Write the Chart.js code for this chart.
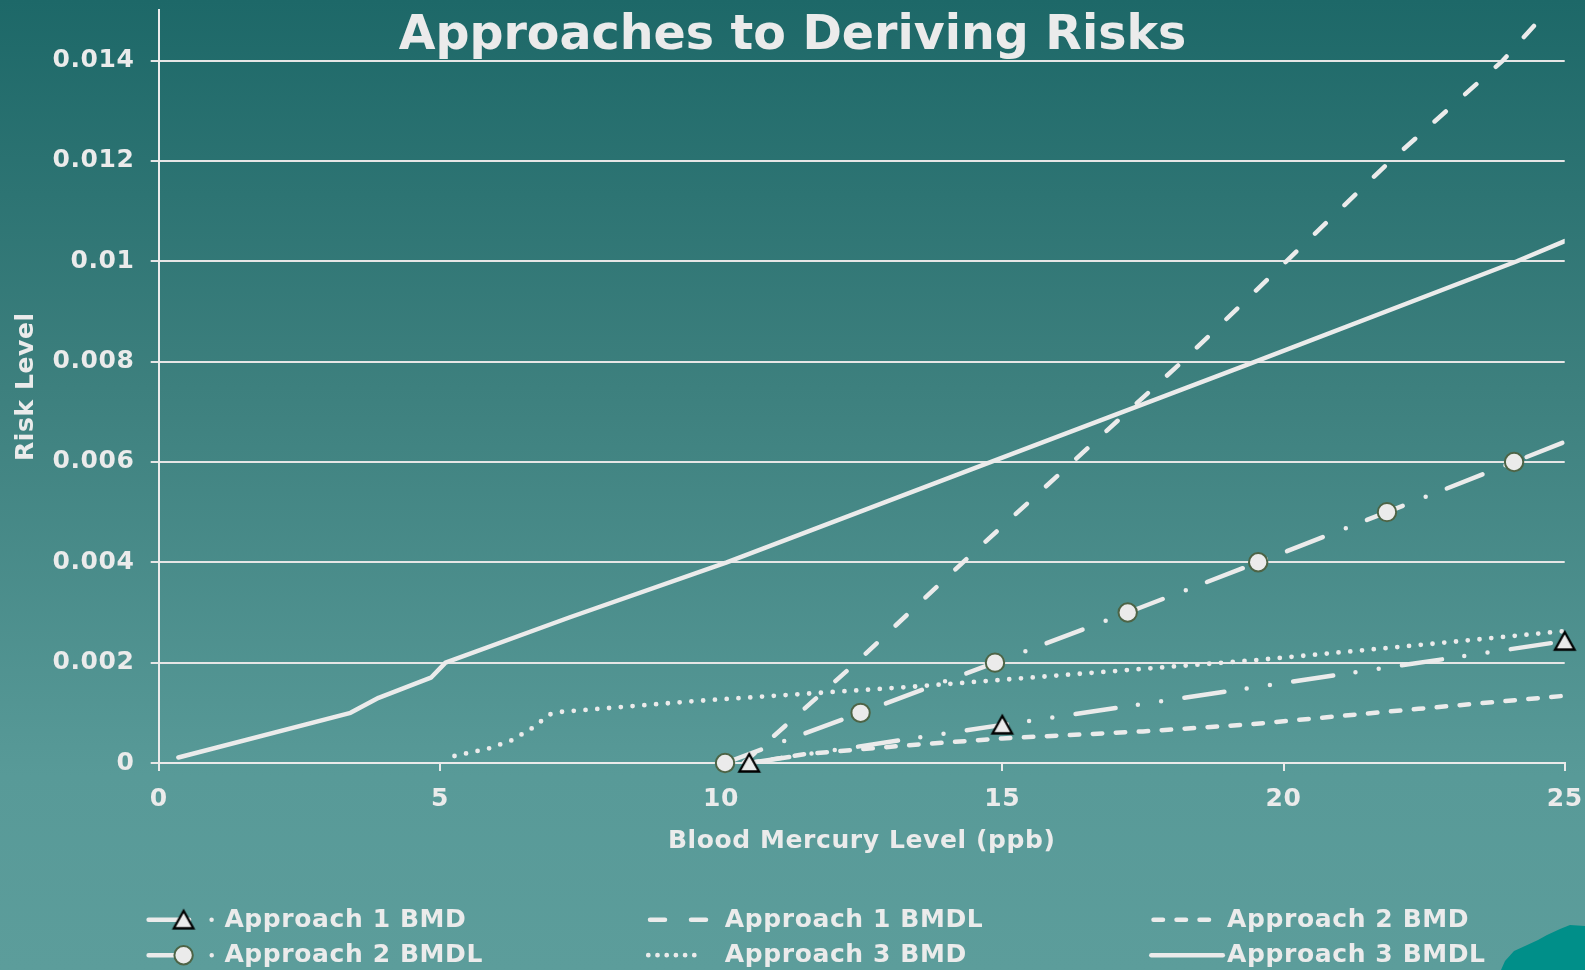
<!DOCTYPE html>
<html>
<head>
<meta charset="utf-8">
<title>Approaches to Deriving Risks</title>
<script src="https://cdn.jsdelivr.net/npm/chart.js@4.4.0/dist/chart.umd.min.js"></script>
<style>
  html, body { margin: 0; padding: 0; overflow: hidden; }
  body { width: 1585px; height: 970px; }
  canvas { display: block; }
</style>
</head>
<body>
<canvas id="risk" width="1585" height="970"></canvas>
<script>
// ---- Data (blood mercury level in ppb vs. risk level) ----
const titleText = 'Approaches to Deriving Risks';
const xAxisTitle = 'Blood Mercury Level (ppb)';
const yAxisTitle = 'Risk Level';

const seriesNames = [
  'Approach 1 BMD', 'Approach 1 BMDL', 'Approach 2 BMD',
  'Approach 2 BMDL', 'Approach 3 BMD', 'Approach 3 BMDL'
];

const a1BmdX = [10.5, 15, 25];
const a1BmdY = [0, 0.00076, 0.00243];

const a1BmdlX = [10.4, 12.4, 14.3, 16.25, 18.2, 20.05, 21.9, 23.9, 24.7];
const a1BmdlY = [0, 0.002, 0.004, 0.006, 0.008, 0.010, 0.012, 0.014, 0.015];

const a2BmdX = [10.5, 11.5, 13.4, 15, 17.5, 19.4, 22.4, 25];
const a2BmdY = [0, 0.00018, 0.00036, 0.00049, 0.00063, 0.00077, 0.00108, 0.00134];

const a2BmdlX = [10.07, 12.48, 14.87, 17.23, 19.55, 21.84, 24.1, 25];
const a2BmdlY = [0, 0.001, 0.002, 0.003, 0.004, 0.005, 0.006, 0.0064];

const a3BmdX = [5.26, 5.87, 6.27, 6.62, 6.96, 7.16, 9.6, 13.4, 17.2, 19.5, 22.4, 25];
const a3BmdY = [0.00014, 0.00029, 0.00045, 0.00068, 0.00097, 0.00102, 0.00124, 0.00152, 0.00185, 0.00205, 0.00235, 0.00263];

const a3BmdlX = [0.35, 3.41, 3.91, 4.84, 5.1, 7.3, 10.1, 14.8, 19.5, 24.15, 25];
const a3BmdlY = [0.00011, 0.001, 0.0013, 0.0017, 0.002, 0.0029, 0.004, 0.006, 0.008, 0.010, 0.0104];

const xTickValues = [0, 5, 10, 15, 20, 25];
const xTickLabels = ['0', '5', '10', '15', '20', '25'];
const yTickValues = [0, 0.002, 0.004, 0.006, 0.008, 0.010, 0.012, 0.014];
const yTickLabels = ['0', '0.002', '0.004', '0.006', '0.008', '0.01', '0.012', '0.014'];

// ---- Styling ----
const INK = '#ebebeb';
const FONT_FAMILY = '"DejaVu Sans", Verdana, sans-serif';
const LETTER_SPACING = '0.6px';
const LINE_W = 4.5;
const labelFont = { family: FONT_FAMILY, size: 25, weight: 'bold', lineHeight: 1.2 };

const pts = (xs, ys) => xs.map((x, i) => ({ x: x, y: ys[i] }));

// Triangle marker centred on its bounding box (light fill, black outline)
function makeTriangleMarker() {
  const c = document.createElement('canvas');
  c.width = 26;
  c.height = 24;
  const g = c.getContext('2d');
  g.fillStyle = INK;
  g.strokeStyle = '#000000';
  g.lineWidth = 2.3;
  g.lineJoin = 'miter';
  g.beginPath();
  g.moveTo(13, 3);
  g.lineTo(22.8, 20.5);
  g.lineTo(3.2, 20.5);
  g.closePath();
  g.fill();
  g.stroke();
  return c;
}
const triangleMarker = makeTriangleMarker();

const baseLine = {
  borderColor: INK,
  borderWidth: LINE_W,
  borderCapStyle: 'round',
  borderJoinStyle: 'round',
  fill: false,
  tension: 0,
  pointRadius: 0,
  pointHoverRadius: 0
};

const datasets = [
  Object.assign({}, baseLine, {
    label: seriesNames[0],
    data: pts(a1BmdX, a1BmdY),
    borderDash: [40.5, 22.5, 0, 23.5, 0, 23.5],
    pointStyle: triangleMarker,
    pointRadius: 11,
    clip: false,
    order: 0,
    sample: { from: 2, to: 72 },
    marker: { image: triangleMarker }
  }),
  Object.assign({}, baseLine, {
    label: seriesNames[1],
    data: pts(a1BmdlX, a1BmdlY),
    borderDash: [15, 26],
    order: 2,
    sample: { from: 3, to: 64 }
  }),
  Object.assign({}, baseLine, {
    label: seriesNames[2],
    data: pts(a2BmdX, a2BmdY),
    borderDash: [9.5, 13.5],
    order: 2,
    sample: { from: 4.2, to: 62.5 }
  }),
  Object.assign({}, baseLine, {
    label: seriesNames[3],
    data: pts(a2BmdlX, a2BmdlY),
    borderDash: [38.4, 24.7, 0, 22.7],
    pointStyle: 'circle',
    pointRadius: a2BmdlX.map((x, i) => (i === a2BmdlX.length - 1 ? 0 : 9.2)),
    pointBackgroundColor: INK,
    pointBorderColor: '#4d6446',
    pointBorderWidth: 2,
    clip: false,
    order: 1,
    sample: { from: 2, to: 72 },
    marker: { radius: 9.2, fill: INK, stroke: '#4d6446', width: 2 }
  }),
  Object.assign({}, baseLine, {
    label: seriesNames[4],
    data: pts(a3BmdX, a3BmdY),
    borderDash: [0, 11.8],
    borderWidth: 4.8,
    order: 2,
    sample: { from: 1.3, to: 48, dash: [0, 9.2] }
  }),
  Object.assign({}, baseLine, {
    label: seriesNames[5],
    data: pts(a3BmdlX, a3BmdlY),
    order: 2,
    sample: { from: 2, to: 73.5 }
  })
];

// Slide backdrop: teal gradient plus the small landform in the lower right corner
const backdropPlugin = {
  id: 'backdrop',
  beforeDraw(chart) {
    const ctx = chart.ctx;
    const w = chart.width, h = chart.height;
    ctx.save();
    const g = ctx.createLinearGradient(0, 0, 0, h);
    g.addColorStop(0, 'rgb(29,104,104)');
    g.addColorStop(0.4, 'rgb(61,128,126)');
    g.addColorStop(0.8, 'rgb(88,154,152)');
    g.addColorStop(1, 'rgb(92,157,155)');
    ctx.fillStyle = g;
    ctx.fillRect(0, 0, w, h);
    ctx.fillStyle = '#008f89';
    ctx.beginPath();
    ctx.moveTo(w - 84, h);
    ctx.lineTo(w - 80, h - 9);
    ctx.lineTo(w - 71, h - 19);
    ctx.lineTo(w - 60, h - 24);
    ctx.lineTo(w - 47, h - 30);
    ctx.lineTo(w - 38, h - 35);
    ctx.lineTo(w - 25, h - 41);
    ctx.lineTo(w - 15, h - 45);
    ctx.lineTo(w, h - 44);
    ctx.lineTo(w, h);
    ctx.closePath();
    ctx.fill();
    ctx.restore();
    ctx.letterSpacing = LETTER_SPACING;
  },
  afterDraw(chart) {
    chart.ctx.letterSpacing = '0px';
  }
};

function drawMarker(ctx, m, x, y) {
  ctx.save();
  ctx.setLineDash([]);
  if (m.image) {
    ctx.drawImage(m.image, x - m.image.width / 2, y - m.image.height / 2);
  } else {
    ctx.fillStyle = m.fill;
    ctx.strokeStyle = m.stroke;
    ctx.lineWidth = m.width;
    ctx.beginPath();
    ctx.arc(x, y, m.radius, 0, Math.PI * 2);
    ctx.fill();
    ctx.stroke();
  }
  ctx.restore();
}

// Three-column legend under the x axis
const gridLegendPlugin = {
  id: 'gridLegend',
  afterDraw(chart) {
    const ctx = chart.ctx;
    const cols = [146.6, 647, 1149.3];
    const rows = [919.8, 955.2];
    chart.data.datasets.forEach((ds, i) => {
      const x0 = cols[i % 3];
      const cy = rows[Math.floor(i / 3)];
      const s = ds.sample;
      ctx.save();
      ctx.strokeStyle = ds.borderColor;
      ctx.lineWidth = ds.borderWidth;
      ctx.lineCap = 'round';
      ctx.setLineDash(s.dash || ds.borderDash || []);
      ctx.beginPath();
      ctx.moveTo(x0 + s.from, cy);
      ctx.lineTo(x0 + s.to, cy);
      ctx.stroke();
      ctx.restore();
      if (ds.marker) drawMarker(ctx, ds.marker, x0 + 37, cy);
      ctx.save();
      ctx.letterSpacing = LETTER_SPACING;
      ctx.font = 'bold 25px ' + FONT_FAMILY;
      ctx.fillStyle = INK;
      ctx.textAlign = 'left';
      ctx.textBaseline = 'middle';
      ctx.fillText(ds.label, x0 + 77.8, cy + 0.5);
      ctx.restore();
    });
  }
};

// Slide heading drawn across the top of the canvas
const headingPlugin = {
  id: 'heading',
  afterDraw(chart) {
    const ctx = chart.ctx;
    ctx.save();
    ctx.letterSpacing = '0px';
    ctx.font = 'bold 47.5px ' + FONT_FAMILY;
    ctx.fillStyle = INK;
    ctx.textAlign = 'center';
    ctx.textBaseline = 'alphabetic';
    ctx.fillText(titleText, chart.width / 2, 49.3);
    ctx.restore();
  }
};

new Chart(document.getElementById('risk'), {
  type: 'line',
  data: { datasets: datasets },
  plugins: [backdropPlugin, gridLegendPlugin, headingPlugin],
  options: {
    responsive: false,
    devicePixelRatio: 1,
    animation: false,
    events: [],
    layout: {
      autoPadding: false,
      padding: { top: 10.4, right: 20.3, bottom: 112, left: 0 }
    },
    plugins: {
      legend: { display: false },
      title: { display: false },
      tooltip: { enabled: false }
    },
    scales: {
      x: {
        type: 'linear',
        min: 0,
        max: 25,
        afterBuildTicks: (s) => { s.ticks = xTickValues.map(v => ({ value: v })); },
        afterFit: (s) => {
          s.height = 95;
          s.paddingLeft = 0;
          s.paddingRight = 0;
        },
        ticks: {
          color: INK,
          font: labelFont,
          padding: 13.5,
          maxRotation: 0,
          callback: (v, i) => xTickLabels[i]
        },
        grid: {
          drawOnChartArea: false,
          drawTicks: true,
          tickLength: 8,
          color: INK,
          lineWidth: 2
        },
        border: { display: true, color: INK, width: 2 },
        title: {
          display: true,
          text: xAxisTitle,
          color: INK,
          font: labelFont,
          padding: { top: 0, bottom: 2 }
        }
      },
      y: {
        type: 'linear',
        min: 0,
        max: 0.015,
        afterBuildTicks: (s) => { s.ticks = yTickValues.map(v => ({ value: v })); },
        afterFit: (s) => {
          s.width = 158.7;
          s.paddingTop = 0;
          s.paddingBottom = 0;
        },
        ticks: {
          color: INK,
          font: labelFont,
          padding: 16.2,
          callback: (v, i) => yTickLabels[i]
        },
        grid: {
          drawTicks: true,
          tickLength: 8,
          color: '#e6e6e6',
          lineWidth: 2
        },
        border: { display: true, color: INK, width: 2 },
        title: {
          display: true,
          text: yAxisTitle,
          color: INK,
          font: labelFont,
          padding: { top: 11.5, bottom: 0 }
        }
      }
    }
  }
});
</script>
</body>
</html>
